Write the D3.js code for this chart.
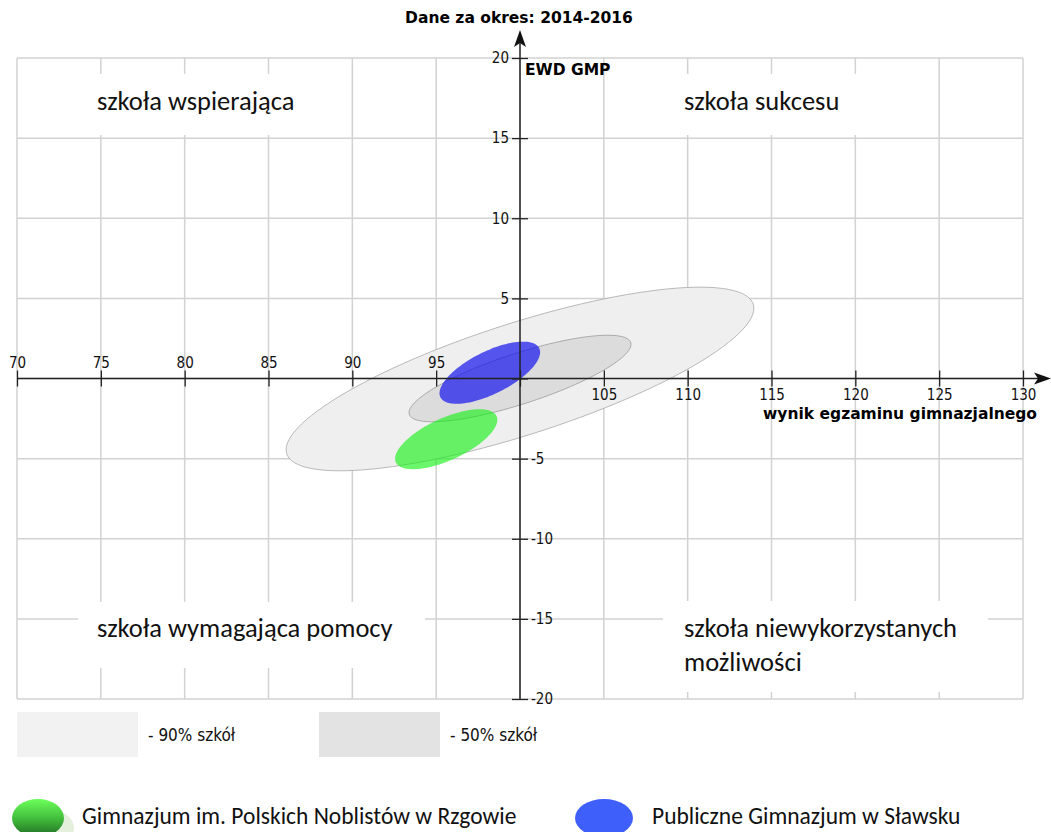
<!DOCTYPE html>
<html>
<head>
<meta charset="utf-8">
<script src="https://cdn.jsdelivr.net/npm/d3@7"></script>
<style>
    body { margin: 0; background: #fff; }
    svg { display: block; }
</style>
</head>
<body>
<script>
// chart data
var xTicks = [70, 75, 80, 85, 90, 95, 100, 105, 110, 115, 120, 125, 130];
var yTicks = [-20, -15, -10, -5, 0, 5, 10, 15, 20];

// ranges: 90% and 50% of schools, then the two schools
var ellipseNames = ['90%', '50%', 'Gimnazjum im. Polskich Noblistów w Rzgowie', 'Publiczne Gimnazjum w Sławsku'];
var ellipseCx = [100.0, 100.0, 95.6, 98.2];
var ellipseCy = [-0.03, 0.0, -3.79, 0.36];
var ellipseSx = [13.95, 6.62, 3.05, 3.0];
var ellipseSy = [5.73, 2.70, 1.87, 1.94];
var ellipseR = [0.77, 0.79, 0.65, 0.66];

var quadrantLabels = [['szkoła wspierająca'], ['szkoła sukcesu'], ['szkoła wymagająca pomocy'], ['szkoła niewykorzystanych', 'możliwości']];
var rangeLegend = ['- 90% szkół', '- 50% szkół'];
var schoolLegend = ['Gimnazjum im. Polskich Noblistów w Rzgowie', 'Publiczne Gimnazjum w Sławsku'];

var W = 1051, H = 832;
var svg = d3.select('body').append('svg')
    .attr('width', W)
    .attr('height', H);

var x = d3.scaleLinear().domain([70, 130]).range([17, 1023]);
var y = d3.scaleLinear().domain([-20, 20]).range([699, 58]);

var defs = svg.append('defs');
var grad = defs.append('linearGradient')
    .attr('id', 'greenGrad')
    .attr('x1', 0).attr('y1', 0).attr('x2', 0).attr('y2', 1);
grad.append('stop').attr('offset', '0%').attr('stop-color', '#6cff5a');
grad.append('stop').attr('offset', '55%').attr('stop-color', '#3fb83a');
grad.append('stop').attr('offset', '100%').attr('stop-color', '#1f6a22');

var gridColor = '#d2d2d2';

// grid
svg.append('g').selectAll('line.v')
    .data(xTicks)
    .enter().append('line')
    .attr('x1', function(d) { return x(d); })
    .attr('x2', function(d) { return x(d); })
    .attr('y1', y(20))
    .attr('y2', y(-20))
    .style('stroke', gridColor)
    .style('stroke-width', 1.5);

svg.append('g').selectAll('line.h')
    .data(yTicks)
    .enter().append('line')
    .attr('x1', x(70))
    .attr('x2', x(130))
    .attr('y1', function(d) { return y(d); })
    .attr('y2', function(d) { return y(d); })
    .style('stroke', gridColor)
    .style('stroke-width', 1.5);

// quadrant labels sit on white boxes that hide the grid
var labelFont = 'Carlito, Lato, "Open Sans", sans-serif';
var boxes = [
    {x0: 78, x1: 330, y0: 74, y1: 135, tx: 97, ty: 110},
    {x0: 665, x1: 900, y0: 74, y1: 135, tx: 684, ty: 110},
    {x0: 78, x1: 425, y0: 602, y1: 668, tx: 97, ty: 637},
    {x0: 663, x1: 988, y0: 601, y1: 692, tx: 684, ty: 637}
];
quadrantLabels.forEach(function(lines, i) {
    var b = boxes[i];
    svg.append('rect')
        .attr('x', b.x0)
        .attr('y', b.y0)
        .attr('width', b.x1 - b.x0)
        .attr('height', b.y1 - b.y0)
        .style('fill', 'white');
    lines.forEach(function(t, j) {
        svg.append('text')
            .attr('x', b.tx)
            .attr('y', b.ty + j * 34)
            .text(t)
            .style('font-family', labelFont)
            .style('font-size', '26.5px')
            .style('fill', '#111');
    });
});

// ellipses from centre, spread and correlation
function ellipsePath(i) {
    var pts = d3.range(0, 361, 3).map(function(a) {
        var t = a * Math.PI / 180;
        var r = ellipseR[i];
        var ex = ellipseCx[i] + ellipseSx[i] * Math.cos(t);
        var ey = ellipseCy[i] + ellipseSy[i] * (r * Math.cos(t) + Math.sqrt(1 - r * r) * Math.sin(t));
        return [x(ex), y(ey)];
    });
    return d3.line().curve(d3.curveLinearClosed)(pts);
}

var ellipseFill = ['#efefef', '#dcdcdc', '#10f010', '#1414ec'];
var ellipseStroke = ['#a8a8a8', '#9a9a9a', 'none', 'none'];
var ellipseOpacity = [1, 1, 0.62, 0.7];

svg.append('g').selectAll('path')
    .data(ellipseNames)
    .enter().append('path')
    .attr('d', function(d, i) { return ellipsePath(i); })
    .style('fill', function(d, i) { return ellipseFill[i]; })
    .style('fill-opacity', function(d, i) { return ellipseOpacity[i]; })
    .style('stroke', function(d, i) { return ellipseStroke[i]; })
    .style('stroke-width', 0.8);

// axes through the origin
var tickFont = '"DejaVu Sans Condensed", "DejaVu Sans", sans-serif';

var gxTop = svg.append('g')
    .attr('transform', 'translate(0,' + y(0) + ')')
    .call(d3.axisTop(x).tickValues(xTicks).tickSize(8)
        .tickFormat(function(d) { return d < 100 ? d : ''; }));
var gxBottom = svg.append('g')
    .attr('transform', 'translate(0,' + y(0) + ')')
    .call(d3.axisBottom(x).tickValues(xTicks).tickSize(8)
        .tickFormat(function(d) { return d > 100 ? d : ''; }));
var gyLeft = svg.append('g')
    .attr('transform', 'translate(' + x(100) + ',0)')
    .call(d3.axisLeft(y).tickValues(yTicks).tickSize(8)
        .tickFormat(function(d) { return d > 0 ? d : ''; }));
var gyRight = svg.append('g')
    .attr('transform', 'translate(' + x(100) + ',0)')
    .call(d3.axisRight(y).tickValues(yTicks).tickSize(8)
        .tickFormat(function(d) { return d < 0 ? d : ''; }));

[gxTop, gxBottom, gyLeft, gyRight].forEach(function(g) {
    g.select('.domain').remove();
    g.selectAll('line').style('stroke', '#222').style('stroke-width', 1.3);
    g.selectAll('text')
        .style('font-family', tickFont)
        .style('font-size', '15px')
        .style('fill', '#111');
});

svg.append('line')
    .attr('x1', x(70)).attr('x2', 1040)
    .attr('y1', y(0)).attr('y2', y(0))
    .style('stroke', '#222').style('stroke-width', 1.5);
svg.append('line')
    .attr('x1', x(100)).attr('x2', x(100))
    .attr('y1', y(-20)).attr('y2', 40)
    .style('stroke', '#222').style('stroke-width', 1.5);

// arrow heads
svg.append('path')
    .attr('d', 'M' + x(100) + ',30 L' + (x(100) + 6) + ',47 L' + x(100) + ',43 L' + (x(100) - 6) + ',47 Z')
    .style('fill', '#111');
svg.append('path')
    .attr('d', 'M1051,' + y(0) + ' L1034,' + (y(0) - 6) + ' L1038,' + y(0) + ' L1034,' + (y(0) + 6) + ' Z')
    .style('fill', '#111');

var boldFont = '"DejaVu Sans", sans-serif';
svg.append('text')
    .attr('x', 519)
    .attr('y', 23)
    .attr('text-anchor', 'middle')
    .text('Dane za okres: 2014-2016')
    .style('font-family', boldFont)
    .style('font-weight', 'bold')
    .style('font-size', '15.5px');

svg.append('text')
    .attr('x', x(100) + 5)
    .attr('y', 75)
    .text('EWD GMP')
    .style('font-family', boldFont)
    .style('font-weight', 'bold')
    .style('font-size', '15.5px');

svg.append('text')
    .attr('x', 1037)
    .attr('y', 419)
    .attr('text-anchor', 'end')
    .text('wynik egzaminu gimnazjalnego')
    .style('font-family', boldFont)
    .style('font-weight', 'bold')
    .style('font-size', '15.5px');

// range legend
var rangeX = [17, 319];
rangeLegend.forEach(function(t, i) {
    svg.append('rect')
        .attr('x', rangeX[i])
        .attr('y', 712)
        .attr('width', 121)
        .attr('height', 45)
        .style('fill', i === 0 ? '#f2f2f2' : '#e3e3e3');
    svg.append('text')
        .attr('x', rangeX[i] + 131)
        .attr('y', 741)
        .text(t)
        .style('font-family', tickFont)
        .style('font-size', '17px')
        .style('fill', '#111');
});

// school legend
svg.append('ellipse')
    .attr('cx', 48).attr('cy', 828)
    .attr('rx', 26).attr('ry', 19)
    .style('fill', '#e4efdc');
svg.append('ellipse')
    .attr('cx', 38).attr('cy', 818)
    .attr('rx', 26).attr('ry', 19)
    .style('fill', 'url(#greenGrad)');
svg.append('ellipse')
    .attr('cx', 604).attr('cy', 818)
    .attr('rx', 29).attr('ry', 19)
    .style('fill', '#3f5ffb');

var schoolX = [82, 652];
schoolLegend.forEach(function(t, i) {
    svg.append('text')
        .attr('x', schoolX[i])
        .attr('y', 824)
        .text(t)
        .style('font-family', labelFont)
        .style('font-size', '23.5px')
        .style('fill', '#111');
});
</script>
</body>
</html>
